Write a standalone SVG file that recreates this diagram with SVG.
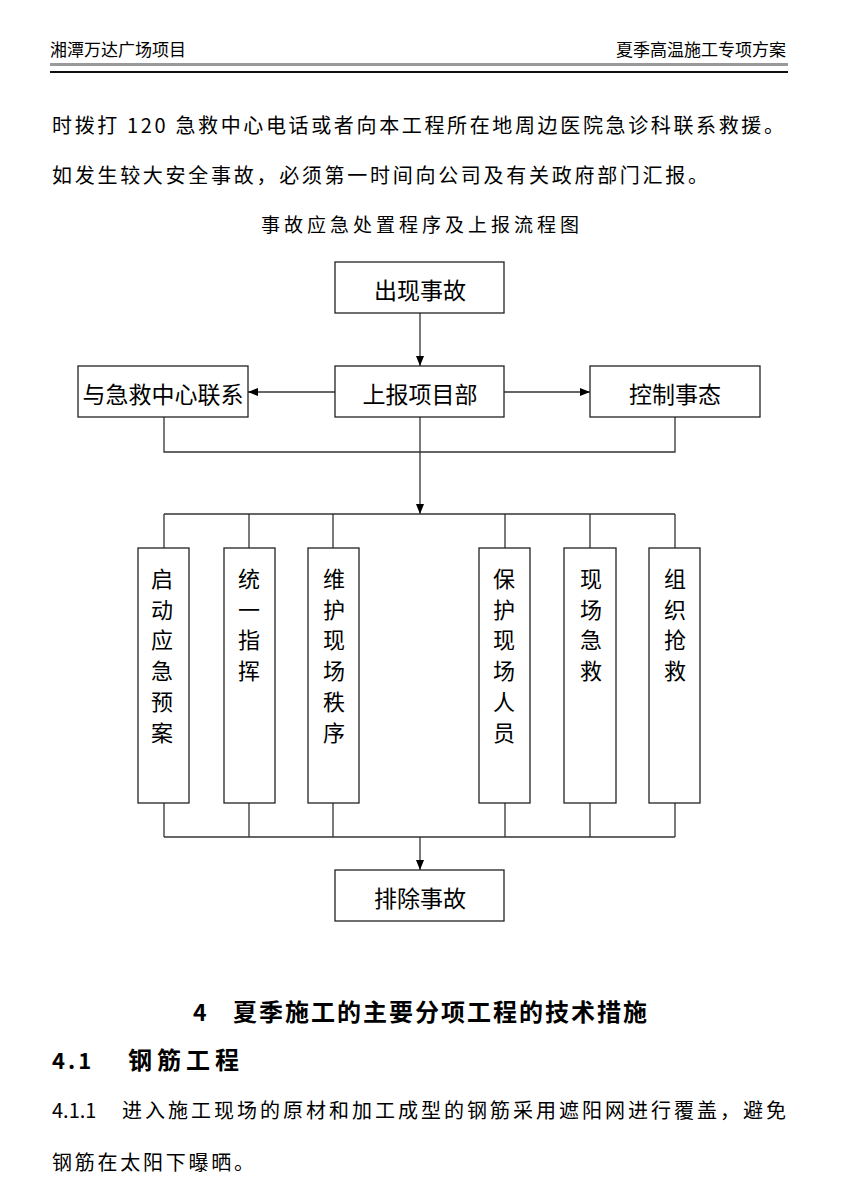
<svg xmlns="http://www.w3.org/2000/svg" width="854" height="1192" viewBox="0 0 854 1192">
<style>
text{font-family:"Noto Sans CJK SC","Liberation Sans",sans-serif;fill:#000}
.hd{font-size:17px}
.body{font-size:20px}
.box{fill:#fff;stroke:#222;stroke-width:1.3}
.lbl{font-size:23px;text-anchor:middle}
.v{font-size:22px;text-anchor:middle}
.ln{fill:none;stroke:#333;stroke-width:1.3}
.bold{font-weight:bold}
</style>
<defs>
<marker id="ah" viewBox="0 0 10 10" refX="10" refY="5" markerWidth="10" markerHeight="10" markerUnits="userSpaceOnUse" orient="auto">
<path d="M0,1 L10,5 L0,9 Z" fill="#000"/>
</marker>
</defs>
<rect width="854" height="1192" fill="#fff"/>
<g id="header">
<text class="hd" x="50" y="56">湘潭万达广场项目</text>
<text class="hd" x="786" y="56" text-anchor="end">夏季高温施工专项方案</text>
<rect x="50" y="63" width="738" height="3" fill="#9a9a9a"/>
<rect x="50" y="71" width="738" height="2" fill="#111"/>
</g>
<g id="para">
<text class="body" x="52" y="133" textLength="732" lengthAdjust="spacing">时拨打 120 急救中心电话或者向本工程所在地周边医院急诊科联系救援。</text>
<text class="body" x="52" y="183" textLength="656" lengthAdjust="spacing">如发生较大安全事故，必须第一时间向公司及有关政府部门汇报。</text>
<text x="420" y="232" text-anchor="middle" font-size="19" textLength="318" lengthAdjust="spacing">事故应急处置程序及上报流程图</text>
</g>
<g id="connectors">
<line class="ln" x1="420" y1="313" x2="420" y2="366" marker-end="url(#ah)"/>
<line class="ln" x1="335" y1="392" x2="248" y2="392" marker-end="url(#ah)"/>
<line class="ln" x1="504" y1="392" x2="590" y2="392" marker-end="url(#ah)"/>
<polyline class="ln" points="164,417 164,452 675,452 675,417"/>
<line class="ln" x1="420" y1="417" x2="420" y2="514" marker-end="url(#ah)"/>
<line class="ln" x1="164" y1="514" x2="675" y2="514"/>
<path class="ln" d="M164,514V548M249,514V548M333,514V548M505,514V548M590,514V548M675,514V548"/>
<path class="ln" d="M164,803V837M249,803V837M333,803V837M505,803V837M590,803V837M675,803V837"/>
<line class="ln" x1="164" y1="837" x2="675" y2="837"/>
<line class="ln" x1="420" y1="837" x2="420" y2="870" marker-end="url(#ah)"/>
</g>
<g id="n_start"><rect class="box" x="335" y="262" width="169" height="51"/><text class="lbl" x="420" y="299">出现事故</text></g>
<g id="n_report"><rect class="box" x="335" y="366" width="169" height="51"/><text class="lbl" x="420" y="403" font-size="24">上报项目部</text></g>
<g id="n_contact"><rect class="box" x="78" y="366" width="170" height="51"/><text class="lbl" x="163" y="403">与急救中心联系</text></g>
<g id="n_control"><rect class="box" x="590" y="366" width="170" height="51"/><text class="lbl" x="675" y="403">控制事态</text></g>
<g id="n_v1"><rect class="box" x="138" y="548" width="51" height="255"/><text class="v" x="162" y="587"><tspan x="162">启</tspan><tspan x="162" dy="30.7">动</tspan><tspan x="162" dy="30.7">应</tspan><tspan x="162" dy="30.7">急</tspan><tspan x="162" dy="30.7">预</tspan><tspan x="162" dy="30.7">案</tspan></text></g>
<g id="n_v2"><rect class="box" x="224" y="548" width="51" height="255"/><text class="v" x="249" y="587"><tspan x="249">统</tspan><tspan x="249" dy="30.7">一</tspan><tspan x="249" dy="30.7">指</tspan><tspan x="249" dy="30.7">挥</tspan></text></g>
<g id="n_v3"><rect class="box" x="308" y="548" width="51" height="255"/><text class="v" x="334" y="587"><tspan x="334">维</tspan><tspan x="334" dy="30.7">护</tspan><tspan x="334" dy="30.7">现</tspan><tspan x="334" dy="30.7">场</tspan><tspan x="334" dy="30.7">秩</tspan><tspan x="334" dy="30.7">序</tspan></text></g>
<g id="n_v4"><rect class="box" x="479" y="548" width="51" height="255"/><text class="v" x="504" y="587"><tspan x="504">保</tspan><tspan x="504" dy="30.7">护</tspan><tspan x="504" dy="30.7">现</tspan><tspan x="504" dy="30.7">场</tspan><tspan x="504" dy="30.7">人</tspan><tspan x="504" dy="30.7">员</tspan></text></g>
<g id="n_v5"><rect class="box" x="564" y="548" width="52" height="255"/><text class="v" x="591" y="587"><tspan x="591">现</tspan><tspan x="591" dy="30.7">场</tspan><tspan x="591" dy="30.7">急</tspan><tspan x="591" dy="30.7">救</tspan></text></g>
<g id="n_v6"><rect class="box" x="649" y="548" width="51" height="255"/><text class="v" x="675" y="587"><tspan x="675">组</tspan><tspan x="675" dy="30.7">织</tspan><tspan x="675" dy="30.7">抢</tspan><tspan x="675" dy="30.7">救</tspan></text></g>
<g id="n_end"><rect class="box" x="335" y="870" width="169" height="51"/><text class="lbl" x="420" y="907">排除事故</text></g>
<g id="section">
<text class="bold" x="193" y="1021" font-size="23">4</text>
<text class="bold" x="233" y="1021" font-size="24" textLength="414" lengthAdjust="spacing">夏季施工的主要分项工程的技术措施</text>
<text class="bold" x="52" y="1069" font-size="22" letter-spacing="3">4.1</text>
<text class="bold" x="128" y="1069" font-size="24" letter-spacing="5">钢筋工程</text>
<text class="body" x="52" y="1118">4.1.1</text>
<text class="body" x="122" y="1118" textLength="664" lengthAdjust="spacing">进入施工现场的原材和加工成型的钢筋采用遮阳网进行覆盖，避免</text>
<text class="body" x="52" y="1170" textLength="202" lengthAdjust="spacing">钢筋在太阳下曝晒。</text>
</g>
</svg>
